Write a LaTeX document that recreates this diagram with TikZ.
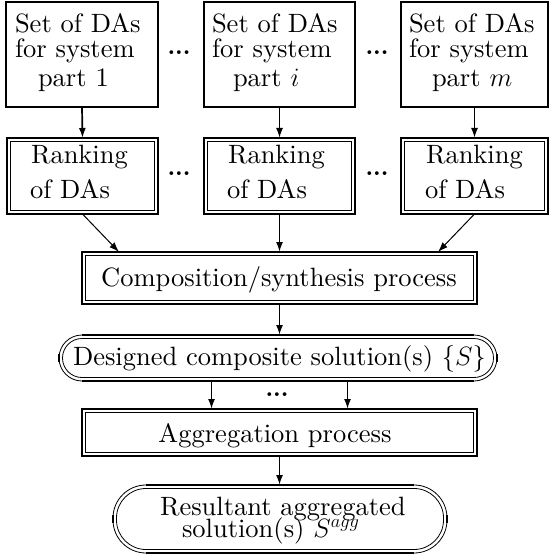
\RequirePackage{fix-cm}
\documentclass[tikz,border=0pt]{standalone}
\usepackage{fontspec}
\setmainfont{lmroman10-regular.otf}[ItalicFont=lmroman10-italic.otf, BoldFont=lmroman10-bold.otf, BoldItalicFont=lmroman10-bolditalic.otf]
\usetikzlibrary{arrows.meta,calc}
\begin{document}
\begin{tikzpicture}[x=1pt,y=-1pt,
  every node/.style={inner sep=0pt, outer sep=0pt},
  txt/.style={anchor=base west, font=\fontsize{26.5}{30}\selectfont},
  ctxt/.style={anchor=base, font=\fontsize{26.5}{30}\selectfont},
  dots/.style={anchor=center, font=\fontsize{24}{28}\selectfont\bfseries},
  sbox/.style={draw, line width=2.2pt, anchor=north west},
  blank/.style={draw=none, anchor=center},
  innerline/.style={line width=1.2pt},
  arr/.style={line width=1.7pt, -{Latex[length=10pt,width=7pt]}},
  darr/.style={line width=1pt, -{Latex[length=10pt,width=7pt]}},
]
\useasboundingbox (0,0) rectangle (549,556);

% top boxes
\node[sbox, minimum width=152pt, minimum height=105pt] (b1) at (6,2) {};
\node[sbox, minimum width=151pt, minimum height=105pt] (b2) at (204,2) {};
\node[sbox, minimum width=147pt, minimum height=105pt] (b3) at (401,2) {};
\node[txt] (b1a) at (15,33) {Set of DAs};
\node[txt] (b1b) at (15,58) {for system};
\node[txt] (b1c) at (38,87) {part 1};
\node[txt] (b2a) at (212,33) {Set of DAs};
\node[txt] (b2b) at (212,58) {for system};
\node[txt] (b2c) at (233,87) {part $i$};
\node[txt] (b3a) at (409,33) {Set of DAs};
\node[txt] (b3b) at (409,58) {for system};
\node[txt] (b3c) at (432,87) {part $m$};
\node[dots] (d1) at (179,53) {...};
\node[dots] (d2) at (377,53) {...};

% ranking boxes
\node[sbox, minimum width=151pt, minimum height=76pt] (r1) at (7,138) {};
\node[sbox, minimum width=151pt, minimum height=76pt] (r2) at (204,138) {};
\node[sbox, minimum width=147pt, minimum height=76pt] (r3) at (401,138) {};
\node[txt] (r1a) at (31,164) {Ranking};
\node[txt] (r1b) at (30,198) {of DAs};
\node[txt] (r2a) at (228,164) {Ranking};
\node[txt] (r2b) at (227,198) {of DAs};
\node[txt] (r3a) at (426,164) {Ranking};
\node[txt] (r3b) at (425,198) {of DAs};
\node[dots] (d3) at (179,174) {...};
\node[dots] (d4) at (377,174) {...};

% composition
\node[sbox, minimum width=395pt, minimum height=52pt] (comp) at (82,252) {};
\node[ctxt] (compt) at (279,286) {Composition/synthesis process};

% designed
\node[blank, minimum width=438pt, minimum height=46pt] (D) at (278,358) {};
\node[ctxt] (Dt) at (279.5,365) {Designed composite solution(s) $\{S\}$};
\node[dots] (d5) at (277,395) {...};

% aggregation
\node[sbox, minimum width=395pt, minimum height=47pt] (agg) at (82,409) {};
\node[ctxt] (aggt) at (275,442) {Aggregation process};

% resultant
\node[blank, minimum width=334pt, minimum height=68pt] (R) at (280,519) {};
\node[txt] (Ra) at (160,515) {Resultant aggregated};
\node[txt] (Rb) at (182,537) {solution(s) $S^{agg}$};

% inner lines of double boxes
\foreach \n in {r1,r2,r3,comp,agg}
  \draw[innerline] ([shift={(3.5,3.5)}]\n.north west) rectangle ([shift={(-3.5,-3.5)}]\n.south east);

% ovals
\foreach \n/\r in {D/23,R/33}{
  \draw[line width=0.8pt, rounded corners=\r*1pt] (\n.south west) rectangle (\n.north east);
  \draw[line width=0.8pt, rounded corners=(\r-3.5)*1pt] ([shift={(3.5,-3.5)}]\n.south west) rectangle ([shift={(-3.5,3.5)}]\n.north east);
  \draw[line width=1.8pt] ([shift={(\r,0)}]\n.north west) -- ([shift={(-\r,0)}]\n.north east);
  \draw[line width=1.2pt] ([shift={(\r,3.5)}]\n.north west) -- ([shift={(-\r,3.5)}]\n.north east);
  \draw[line width=1.8pt] ([shift={(\r,0)}]\n.south west) -- ([shift={(-\r,0)}]\n.south east);
  \draw[line width=1.2pt] ([shift={(\r,-3.5)}]\n.south west) -- ([shift={(-\r,-3.5)}]\n.south east);
  \draw[line width=2.2pt] ([shift={(0,-4)}]\n.west) -- ([shift={(0,4)}]\n.west);
  \draw[line width=2.2pt] ([shift={(0,-4)}]\n.east) -- ([shift={(0,4)}]\n.east);
}

% connectors
\draw[arr] (b1.south) -- (r1.north);
\draw[arr] (b2.south) -- (r2.north);
\draw[arr] (b3.south) -- (r3.north);
\coordinate (c1) at ([shift={(37,0)}]comp.north west);
\coordinate (c3) at ([shift={(-39,0)}]comp.north east);
\draw[darr] (r1.south) -- (c1);
\draw[arr] (r2.south) -- (comp.north);
\draw[darr] (r3.south) -- (c3);
\draw[arr] (comp.south) -- (comp.south |- D.north);
\coordinate (a1) at ([shift={(-68,0)}]agg.north);
\coordinate (a2) at ([shift={(68,0)}]agg.north);
\draw[arr] (D.south -| a1) -- (a1);
\draw[arr] (D.south -| a2) -- (a2);
\draw[arr] (agg.south) -- (agg.south |- R.north);
\end{tikzpicture}
\end{document}
